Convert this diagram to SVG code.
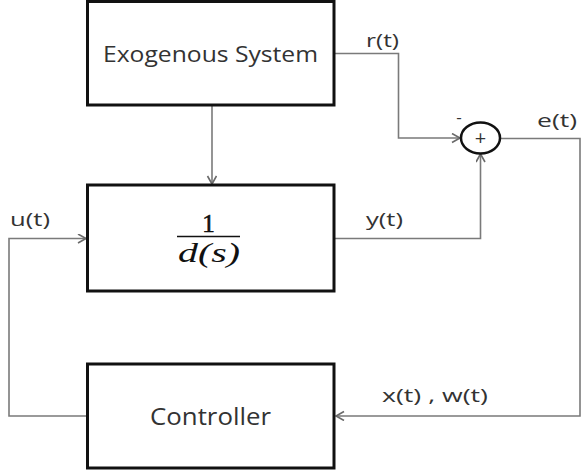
<svg xmlns="http://www.w3.org/2000/svg" width="582" height="470" viewBox="0 0 582 470">
<style>
.box{fill:#fff;stroke:#111;stroke-width:3}
.wire{fill:none;stroke:#7a7a7a;stroke-width:1.6}
.lbl{font-family:"Open Sans","Noto Sans",sans-serif;fill:#333}
.math{font-family:"Liberation Serif","DejaVu Serif",serif;fill:#111}
</style>
<defs>
<marker id="arr" markerUnits="userSpaceOnUse" markerWidth="12" markerHeight="12" refX="9" refY="5" orient="auto">
<path d="M1,0.5 L9,5 L1,9.5" fill="none" stroke="#6a6a6a" stroke-width="1.6"/>
</marker>
</defs>
<rect width="582" height="470" fill="#fff"/>
<g id="connectors">
<path class="wire" d="M334,53.5 H398.5 V138 H460" marker-end="url(#arr)"/>
<path class="wire" d="M212,106 V184" marker-end="url(#arr)"/>
<path class="wire" d="M334,238.5 H480.5 V154" marker-end="url(#arr)"/>
<path class="wire" d="M500,138.5 H580 V416 H336" marker-end="url(#arr)"/>
<path class="wire" d="M87,416 H9 V238.5 H86" marker-end="url(#arr)"/>
</g>
<g id="exogenous">
<rect class="box" x="87.5" y="1.5" width="246.5" height="103.5"/>
<text class="lbl" x="103" y="62" font-size="22" textLength="215" lengthAdjust="spacingAndGlyphs">Exogenous System</text>
</g>
<g id="plant">
<rect class="box" x="87.5" y="185" width="246.5" height="106"/>
<text class="math" x="208.5" y="232" font-size="25" text-anchor="middle" stroke="#111" stroke-width="0.6">1</text>
<line x1="177" y1="236.5" x2="240" y2="236.5" stroke="#111" stroke-width="1.5"/>
<text class="math" x="178" y="262" font-size="27" font-style="italic" textLength="62" lengthAdjust="spacingAndGlyphs">d(s)</text>
</g>
<g id="controller">
<rect class="box" x="87.5" y="364" width="246.5" height="104"/>
<text class="lbl" x="150" y="425" font-size="23" textLength="121" lengthAdjust="spacingAndGlyphs">Controller</text>
</g>
<g id="sum">
<ellipse cx="480.5" cy="138" rx="19.5" ry="15.5" fill="#fff" stroke="#111" stroke-width="2.5"/>
<text class="lbl" x="480.5" y="145" font-size="20" text-anchor="middle" fill="#222">+</text>
<text class="lbl" x="459" y="123" font-size="17" text-anchor="middle">-</text>
</g>
<g id="labels">
<text class="lbl" x="366" y="47" font-size="19" textLength="33" lengthAdjust="spacingAndGlyphs">r(t)</text>
<text class="lbl" x="537" y="127" font-size="19" textLength="40" lengthAdjust="spacingAndGlyphs">e(t)</text>
<text class="lbl" x="10" y="226" font-size="19" textLength="40" lengthAdjust="spacingAndGlyphs">u(t)</text>
<text class="lbl" x="366" y="226" font-size="19" textLength="37" lengthAdjust="spacingAndGlyphs">y(t)</text>
<text class="lbl" x="382" y="402" font-size="19" textLength="106" lengthAdjust="spacingAndGlyphs">x(t) , w(t)</text>
</g>
</svg>
